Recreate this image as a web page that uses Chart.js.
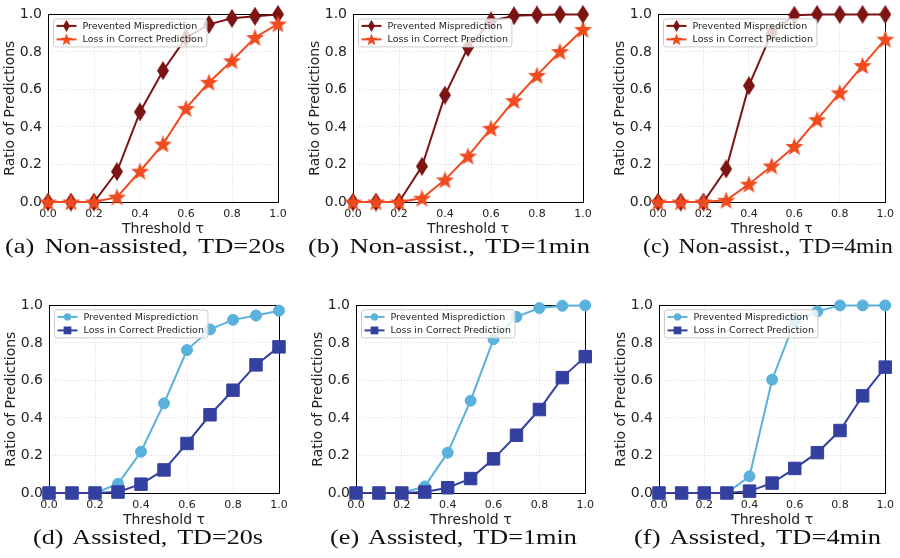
<!DOCTYPE html>
<html>
<head>
<meta charset="utf-8">
<script src="https://cdn.jsdelivr.net/npm/chart.js@4.4.0/dist/chart.umd.min.js"></script>
<style>
  body { margin: 0; background: #fff; }
  #wrap { position: relative; width: 900px; height: 558px; overflow: hidden; }
  #wrap canvas { position: absolute; }
  .cap {
    position: absolute; font-family: 'Liberation Serif', serif; font-size: 21px;
    line-height: 21px; word-spacing: 3px; color: #111; white-space: nowrap;
    transform-origin: 0 0;
  }
</style>
</head>
<body>
<div id="wrap"></div>
<script>
// thresholds on the x axis
const thresholds = [0.0, 0.1, 0.2, 0.3, 0.4, 0.5, 0.6, 0.7, 0.8, 0.9, 1.0];
const seriesNames = ['Prevented Misprediction', 'Loss in Correct Prediction'];
const tickValues = [0.0, 0.2, 0.4, 0.6, 0.8, 1.0];

const captions = [
  '(a) Non-assisted, TD=20s',
  '(b) Non-assist., TD=1min',
  '(c) Non-assist., TD=4min',
  '(d) Assisted, TD=20s',
  '(e) Assisted, TD=1min',
  '(f) Assisted, TD=4min'
];

// non-assisted
const prevented20s = [0, 0, 0, 0.162, 0.48, 0.70, 0.875, 0.947, 0.979, 0.99, 1.0];
const loss20s      = [0, 0, 0, 0.026, 0.164, 0.309, 0.499, 0.638, 0.753, 0.877, 0.949];
const prevented1m  = [0, 0, 0, 0.19, 0.57, 0.824, 0.965, 0.993, 0.997, 1.0, 1.0];
const loss1m       = [0, 0, 0, 0.02, 0.118, 0.245, 0.393, 0.541, 0.675, 0.802, 0.92];
const prevented4m  = [0, 0, 0, 0.176, 0.62, 0.90, 0.996, 1.0, 1.0, 1.0, 1.0];
const loss4m       = [0, 0, 0, 0.009, 0.095, 0.192, 0.296, 0.439, 0.582, 0.727, 0.868];

// assisted
const preventedA20s = [0, 0, 0, 0.049, 0.22, 0.478, 0.762, 0.872, 0.923, 0.946, 0.972];
const lossA20s      = [0, 0, 0, 0.005, 0.047, 0.123, 0.264, 0.417, 0.548, 0.683, 0.779];
const preventedA1m  = [0, 0, 0, 0.035, 0.215, 0.492, 0.82, 0.939, 0.986, 0.998, 1.0];
const lossA1m       = [0, 0, 0, 0.005, 0.028, 0.077, 0.182, 0.308, 0.445, 0.615, 0.727];
const preventedA4m  = [0, 0, 0, 0, 0.089, 0.604, 0.916, 0.968, 1.0, 1.0, 1.0];
const lossA4m       = [0, 0, 0, 0, 0.01, 0.053, 0.131, 0.215, 0.333, 0.518, 0.671];

const darkRed = '#7c1414';
const orange = '#f04b1f';
const lightBlue = '#5ab1dc';
const navy = '#3440a0';

// marker images (matplotlib thin diamond and filled star)
function diamondImg(color, s) {
  const c = document.createElement('canvas');
  const w = Math.round(12 * s), h = Math.round(19 * s);
  c.width = w; c.height = h;
  const g = c.getContext('2d');
  g.fillStyle = color;
  g.beginPath();
  g.moveTo(w / 2, 0); g.lineTo(w, h / 2); g.lineTo(w / 2, h); g.lineTo(0, h / 2);
  g.closePath(); g.fill();
  return c;
}
function starImg(color, s) {
  const c = document.createElement('canvas');
  const size = Math.round(19 * s);
  c.width = size; c.height = size;
  const g = c.getContext('2d');
  const R = size / 2, r = R * 0.42, cx = size / 2, cy = size / 2 + R * 0.08;
  g.fillStyle = color;
  g.beginPath();
  for (let i = 0; i < 10; i++) {
    const a = -Math.PI / 2 + i * Math.PI / 5;
    const rad = i % 2 === 0 ? R : r;
    g.lineTo(cx + rad * Math.cos(a), cy + rad * Math.sin(a));
  }
  g.closePath(); g.fill();
  return c;
}

// markers per row
const styles = {
  non: [
    { color: darkRed, style: diamondImg(darkRed, 1), legend: diamondImg(darkRed, 0.62), radius: 7 },
    { color: orange, style: starImg(orange, 1), legend: starImg(orange, 0.68), radius: 8 }
  ],
  ast: [
    { color: lightBlue, style: 'circle', radius: 5.5, legendRadius: 3.6 },
    { color: navy, style: 'rect', radius: 8.8, legendRadius: 5.5 }
  ]
};

// layout of the six panels: canvas origin, plot-area left edge, caption centre and width
const panels = [
  { x: 0,   y: 0,   left: 48, capX: 145, capW: 280, prev: prevented20s,  loss: loss20s,  kind: 'non' },
  { x: 300, y: 0,   left: 53, capX: 149, capW: 282, prev: prevented1m,   loss: loss1m,   kind: 'non' },
  { x: 600, y: 0,   left: 58, capX: 168, capW: 250, prev: prevented4m,   loss: loss4m,   kind: 'non' },
  { x: 0,   y: 291, left: 49, capX: 148, capW: 230, prev: preventedA20s, loss: lossA20s, kind: 'ast' },
  { x: 300, y: 291, left: 56, capX: 153, capW: 247, prev: preventedA1m,  loss: lossA1m,  kind: 'ast' },
  { x: 600, y: 291, left: 59, capX: 157, capW: 247, prev: preventedA4m,  loss: lossA4m,  kind: 'ast' }
];

const AXIS_W = 48, PLOT_W = 230, CANVAS_W = 300, CANVAS_H = 240;

// black frame around plot area
const framePlugin = {
  id: 'frame',
  beforeDatasetsDraw(chart) {
    const { ctx, chartArea: a } = chart;
    ctx.save();
    ctx.strokeStyle = '#000';
    ctx.lineWidth = 1;
    ctx.strokeRect(Math.round(a.left) + 0.5, Math.round(a.top) + 0.5,
      Math.round(a.right - a.left), Math.round(a.bottom - a.top));
    ctx.restore();
  }
};

// matplotlib-like legend in the upper left corner
const legendPlugin = {
  id: 'mplLegend',
  afterDatasetsDraw(chart) {
    const { ctx, chartArea: a } = chart;
    const sty = styles[chart.options.plugins.mplLegend.kind];
    ctx.save();
    ctx.font = '9.5px "DejaVu Sans"';
    const tw = Math.max(...seriesNames.map(n => ctx.measureText(n).width));
    const bx = a.left + 5.5, by = a.top + 4.5, bw = 29 + tw + 4, bh = 28;
    ctx.fillStyle = 'rgba(255,255,255,0.8)';
    ctx.strokeStyle = '#cccccc';
    ctx.lineWidth = 1;
    ctx.beginPath();
    ctx.roundRect(bx, by, bw, bh, 2.5);
    ctx.fill(); ctx.stroke();
    seriesNames.forEach((name, i) => {
      const s = sty[i];
      const cy = by + 7 + i * 13.5;
      ctx.strokeStyle = s.color;
      ctx.lineWidth = 2;
      ctx.beginPath();
      ctx.moveTo(bx + 3, cy); ctx.lineTo(bx + 23, cy);
      ctx.stroke();
      ctx.fillStyle = s.color;
      const mx = bx + 13;
      if (s.style === 'circle') {
        ctx.beginPath(); ctx.arc(mx, cy, s.legendRadius, 0, Math.PI * 2); ctx.fill();
      } else if (s.style === 'rect') {
        const h = s.legendRadius * Math.SQRT1_2;
        ctx.fillRect(mx - h, cy - h, 2 * h, 2 * h);
      } else {
        const img = s.legend;
        ctx.drawImage(img, mx - img.width / 2, cy - img.height / 2);
      }
      ctx.fillStyle = '#222';
      ctx.textBaseline = 'middle';
      ctx.fillText(name, bx + 29, cy + 0.5);
    });
    ctx.restore();
  }
};

const wrap = document.getElementById('wrap');

panels.forEach((p, idx) => {
  const canvas = document.createElement('canvas');
  canvas.width = CANVAS_W; canvas.height = CANVAS_H;
  canvas.style.left = p.x + 'px';
  canvas.style.top = p.y + 'px';
  wrap.appendChild(canvas);

  // caption, stretched horizontally to the width of the original LaTeX caption
  const cap = document.createElement('div');
  cap.className = 'cap';
  cap.textContent = captions[idx];
  wrap.appendChild(cap);
  const w = cap.getBoundingClientRect().width;
  cap.style.left = (p.x + p.capX - p.capW / 2) + 'px';
  cap.style.top = (p.y + 236) + 'px';
  cap.style.transform = 'scaleX(' + (p.capW / w).toFixed(3) + ')';

  const sty = styles[p.kind];
  const padLeft = p.left - AXIS_W;
  const padRight = CANVAS_W - p.left - PLOT_W;

  const mkSet = (vals, i) => ({
    label: seriesNames[i],
    data: thresholds.map((t, k) => ({ x: t, y: vals[k] })),
    borderColor: sty[i].color,
    backgroundColor: sty[i].color,
    pointBackgroundColor: sty[i].color,
    pointBorderColor: sty[i].color,
    pointBorderWidth: 1,
    pointStyle: sty[i].style,
    pointRadius: sty[i].radius,
    borderWidth: 2,
    tension: 0,
    clip: false,
    order: i === 0 ? 1 : 0
  });

  const gridOpts = { color: '#cfcfcf', lineWidth: 0.8, drawTicks: false };

  new Chart(canvas, {
    type: 'line',
    data: { datasets: [mkSet(p.prev, 0), mkSet(p.loss, 1)] },
    options: {
      responsive: false,
      animation: false,
      devicePixelRatio: 1,
      events: [],
      layout: { padding: { left: padLeft, right: padRight, top: 13, bottom: 0 } },
      plugins: {
        legend: { display: false },
        tooltip: { enabled: false },
        mplLegend: { kind: p.kind }
      },
      scales: {
        x: {
          type: 'linear', min: 0, max: 1,
          afterBuildTicks: s => { s.ticks = tickValues.map(v => ({ value: v })); },
          afterFit: s => { s.height = CANVAS_H - 202; },
          ticks: {
            callback: v => v.toFixed(1), padding: 6, maxRotation: 0,
            color: '#222', font: { family: 'DejaVu Sans', size: 11 }
          },
          grid: gridOpts,
          border: { display: false, dash: [1, 2] },
          title: {
            display: true, text: 'Threshold τ', color: '#222',
            font: { family: 'DejaVu Sans', size: 14 }, padding: { top: 0, bottom: 2 }
          }
        },
        y: {
          min: 0, max: 1,
          afterBuildTicks: s => { s.ticks = tickValues.map(v => ({ value: v })); },
          afterFit: s => { s.width = AXIS_W; },
          ticks: {
            callback: v => v.toFixed(1), padding: 6,
            color: '#222', font: { family: 'DejaVu Sans', size: 14 }
          },
          grid: gridOpts,
          border: { display: false, dash: [1, 2] },
          title: {
            display: true, text: 'Ratio of Predictions', color: '#222',
            font: { family: 'DejaVu Sans', size: 14 }, padding: { top: 1.5, bottom: 0 }
          }
        }
      }
    },
    plugins: [framePlugin, legendPlugin]
  });
});
</script>
</body>
</html>
